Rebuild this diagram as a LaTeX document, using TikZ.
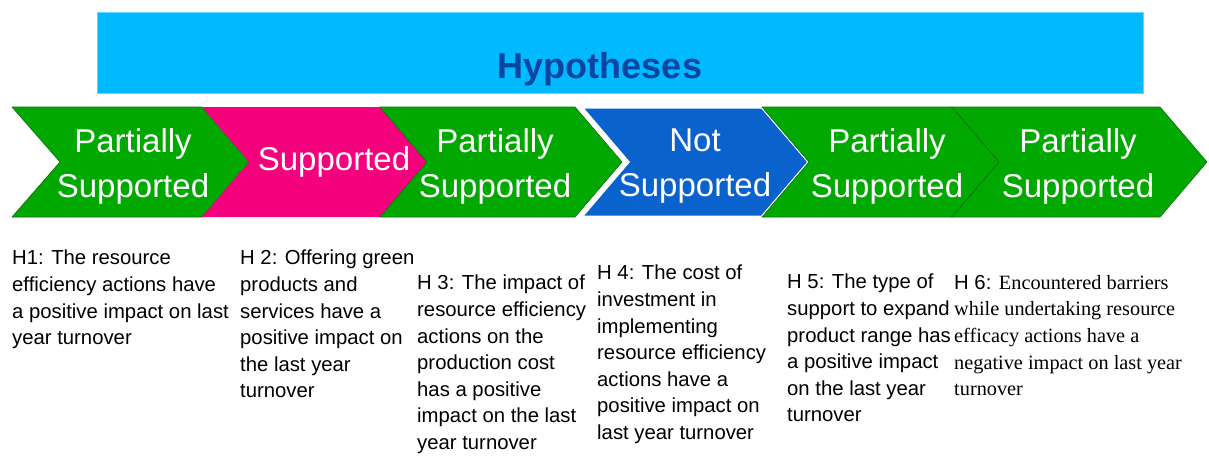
\documentclass[tikz,border=0pt]{standalone}
\usepackage{fontspec}
\setmainfont{Liberation Sans}
\newfontfamily\serifface{Liberation Serif}
\usetikzlibrary{positioning}
\definecolor{partGreen}{HTML}{00A800}
\definecolor{partEdge}{HTML}{0B6E0B}
\definecolor{fullPink}{HTML}{F5007D}
\definecolor{notBlue}{HTML}{0A62CC}
\definecolor{bannerCyan}{HTML}{00B9FF}
\definecolor{titleBlue}{HTML}{0B45A0}

\begin{document}
\begin{tikzpicture}[
  x=1pt, y=-1pt,
  %% Banner styles
  banner/.style={
    rectangle, fill=bannerCyan, draw=bannerCyan!60,
    minimum width=1046pt, minimum height=81pt, inner sep=0pt
  },
  title/.style={
    font=\fontsize{36}{40}\selectfont\bfseries,
    text=titleBlue, inner sep=0pt
  },
  %% Chevron styles
  chevgreen/.style={fill=partGreen, draw=partEdge, line width=0.6pt},
  chevpink/.style={fill=fullPink},
  chevblue/.style={fill=notBlue, draw=white, line width=3pt},
  verdict/.style={
    align=center, text=white, inner sep=0pt,
    font=\fontsize{33}{45}\selectfont
  },
  %% Hypothesis text
  hyptext/.style={
    align=left, anchor=north west, inner sep=0pt,
    font=\fontsize{20.3}{26.6}\selectfont
  },
]
\useasboundingbox (0,0) rectangle (1209,455);

%% ── Banner ─────────────────────────────────────────────────────────────────
\node[banner] (banner) at (620,52.5) {};
\node[title, anchor=base] (title) at (600,78) {Hypotheses};

%% ── Chevrons ───────────────────────────────────────────────────────────────
\filldraw[chevgreen] (12,107) -- (202,107) -- (249,162) -- (202,217)
  -- (12,217) -- (60,162) -- cycle;
\fill[chevpink] (202,107) -- (380,107) -- (427,162) -- (380,217)
  -- (202,217) -- (249,162) -- cycle;
\filldraw[chevgreen] (380,107) -- (575,107) -- (622,162) -- (575,217)
  -- (380,217) -- (427,162) -- cycle;
\filldraw[chevblue] (581,107) -- (762,107) -- (809,162) -- (762,217)
  -- (581,217) -- (628,162) -- cycle;
\filldraw[chevgreen] (762,107) -- (952,107) -- (999,162) -- (952,217)
  -- (762,217) -- (809,162) -- cycle;
\filldraw[chevgreen] (952,107) -- (1160,107) -- (1207,162) -- (1160,217)
  -- (952,217) -- (999,162) -- cycle;

%% ── Verdicts ───────────────────────────────────────────────────────────────
\node[verdict] (v1) at (133,166) {Partially\\Supported};
\node[verdict] (v2) at (334,162) {Supported};
\node[verdict] (v3) at (495,166) {Partially\\Supported};
\node[verdict] (v4) at (695,166) {Not\\Supported};
\node[verdict] (v5) at (887,166) {Partially\\Supported};
\node[verdict] (v6) at (1078,166) {Partially\\Supported};

%% ── Hypotheses ─────────────────────────────────────────────────────────────
\node[hyptext] (h1) at (12,250) {H1: The resource\\efficiency actions have\\a positive impact on last\\year turnover};
\node[hyptext] (h2) at (240,250) {H 2: Offering green\\products and\\services have a\\positive impact on\\the last year\\turnover};
\node[hyptext] (h3) at (417,275) {H 3: The impact of\\resource efficiency\\actions on the\\production cost\\has a positive\\impact on the last\\year turnover};
\node[hyptext] (h4) at (597,265) {H 4: The cost of\\investment in\\implementing\\resource efficiency\\actions have a\\positive impact on\\last year turnover};
\node[hyptext] (h5) at (787,274) {H 5: The type of\\support to expand\\product range has\\a positive impact\\on the last year\\turnover};
\node[hyptext] (h6) at (954,275) {H 6: {\serifface Encountered barriers}\\{\serifface while undertaking resource}\\{\serifface efficacy actions have a}\\{\serifface negative impact on last year}\\{\serifface turnover}};

\end{tikzpicture}
\end{document}
